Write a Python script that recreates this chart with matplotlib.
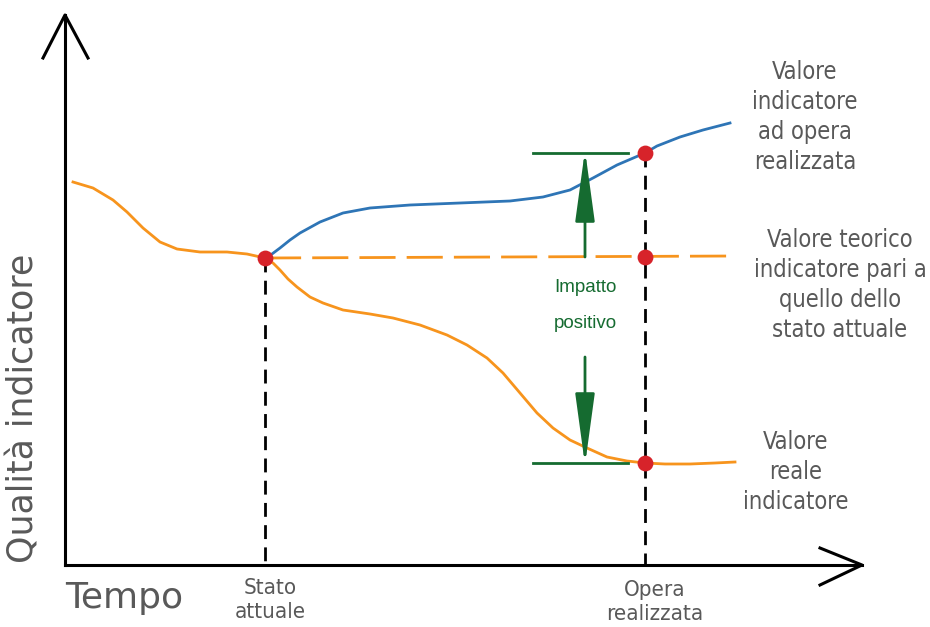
import matplotlib.pyplot as plt
from matplotlib import font_manager

# punti (coordinate in pixel, y verso il basso)
orange_left_x = [73, 93, 113, 127, 143, 160, 177, 200, 227, 247, 265]
orange_left_y = [182, 188, 200, 212, 228, 242, 249, 252, 252, 254, 258]

orange_low_x = [265, 273, 280, 288, 297, 310, 323, 343, 370, 393, 420, 447, 467, 487, 503, 520, 537, 553, 570,
                587, 607, 627, 645, 665, 690, 715, 735]
orange_low_y = [258, 263, 270, 279, 287, 297, 303, 310, 314, 318, 325, 335, 345, 358, 373, 393, 413, 428, 440,
                448, 457, 461, 463, 464, 464, 463, 462]

blue_x = [265, 272, 280, 290, 300, 320, 343, 370, 410, 460, 510, 543, 570, 593, 617, 645, 657, 680, 703, 730]
blue_y = [258, 254, 248, 240, 233, 222, 213, 208, 205, 203, 201, 197, 190, 178, 165, 153, 146, 137, 130, 123]

teorico_x = [265, 735]
teorico_y = [258, 256]

dots_x = [265, 645, 645, 645]
dots_y = [258, 153, 257, 463]

# carattere stretto se disponibile
label_fp = None
for f in font_manager.fontManager.ttflist:
    if f.name in ("Liberation Sans Narrow", "Roboto Condensed", "Open Sans Condensed") or \
            (f.name == "DejaVu Sans" and f.stretch == "condensed" and f.weight == 400 and f.style == "normal"):
        label_fp = f.fname
        break
if label_fp:
    lab = dict(fontproperties=font_manager.FontProperties(fname=label_fp, size=17))
    lab_small = dict(fontproperties=font_manager.FontProperties(fname=label_fp, size=16))
else:
    lab = dict(family="DejaVu Sans", fontsize=15.5)
    lab_small = dict(family="DejaVu Sans", fontsize=14)

grey = "#595959"
green = "#156b30"
orange = "#f7941d"

fig = plt.figure(figsize=(9.3, 6.27), dpi=100)
ax = fig.add_axes([0, 0, 1, 1])
ax.set_xlim(0, 930)
ax.set_ylim(627, 0)
ax.axis("off")

# assi con frecce aperte
ax.plot([65, 65], [565, 15], color="black", lw=2.2)
ax.plot([43, 65, 88], [58, 15, 58], color="black", lw=2.2)
ax.plot([65, 862], [565, 565], color="black", lw=2.2)
ax.plot([820, 862, 820], [548, 565, 585], color="black", lw=2.2)

# linee verticali tratteggiate
ax.plot([265, 265], [258, 565], color="black", lw=2, ls=(0, (5, 3)))
ax.plot([645, 645], [153, 565], color="black", lw=2, ls=(0, (5, 3)))

# curve
ax.plot(orange_left_x, orange_left_y, color=orange, lw=2, solid_joinstyle="round")
ax.plot(orange_low_x, orange_low_y, color=orange, lw=2, solid_joinstyle="round")
ax.plot(teorico_x, teorico_y, color=orange, lw=2, ls=(0, (13, 4)))
ax.plot(blue_x, blue_y, color="#2e75b6", lw=2, solid_joinstyle="round")

# impatto positivo
ax.plot([533, 628], [153, 153], color=green, lw=2)
ax.plot([533, 628], [463, 463], color=green, lw=2)
arr = dict(arrowstyle="-|>,head_length=4.4,head_width=0.6", color=green, lw=2, shrinkA=0, shrinkB=0)
ax.annotate("", xy=(585, 150), xytext=(585, 257), arrowprops=arr)
ax.annotate("", xy=(585, 465), xytext=(585, 357), arrowprops=arr)
ax.text(585, 288, "Impatto", color=green, fontsize=13.5, family="Liberation Sans", ha="center", va="center")
ax.text(585, 323, "positivo", color=green, fontsize=13.5, family="Liberation Sans", ha="center", va="center")

ax.scatter(dots_x, dots_y, s=130, color="#d7232a", zorder=5, linewidths=0)

# etichette
ax.text(805, 117, "Valore\nindicatore\nad opera\nrealizzata", color=grey,
        ha="center", va="center", linespacing=1.3, **lab)
ax.text(840, 285, "Valore teorico\nindicatore pari a\nquello dello\nstato attuale", color=grey,
        ha="center", va="center", linespacing=1.3, **lab)
ax.text(796, 472, "Valore\nreale\nindicatore", color=grey,
        ha="center", va="center", linespacing=1.3, **lab)
ax.text(270, 600, "Stato\nattuale", color=grey, ha="center", va="center", linespacing=1.2, **lab_small)
ax.text(655, 602, "Opera\nrealizzata", color=grey, ha="center", va="center", linespacing=1.2, **lab_small)
ax.text(65, 598, "Tempo", color=grey, fontsize=26, family="DejaVu Sans", ha="left", va="center")
ax.text(24, 408, "Qualità indicatore", color=grey, fontsize=25, family="DejaVu Sans",
        ha="center", va="center", rotation=90)

fig.savefig("out.png", dpi=100)
